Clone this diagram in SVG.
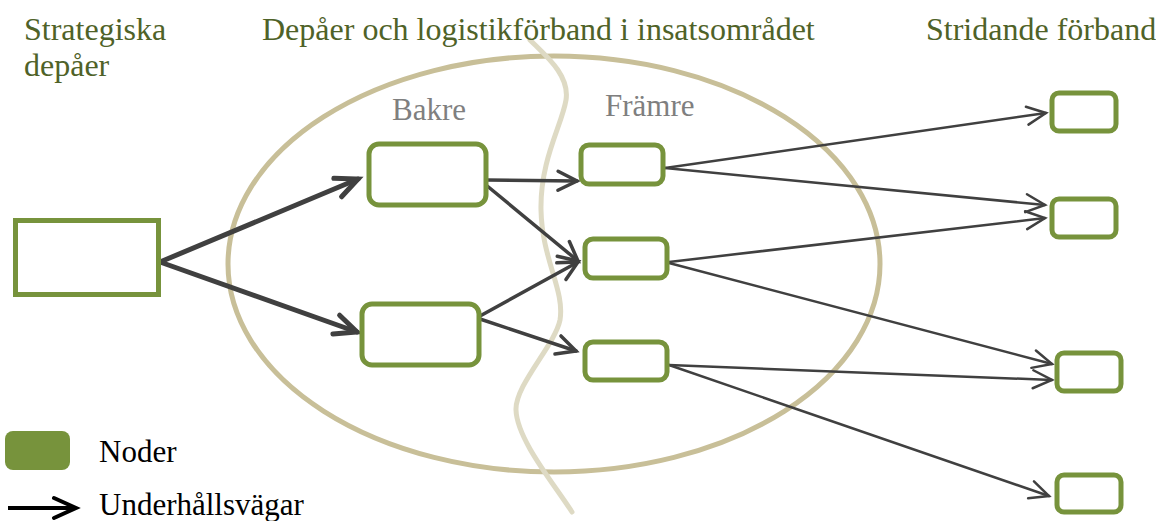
<svg xmlns="http://www.w3.org/2000/svg" width="1156" height="521" viewBox="0 0 1156 521">
<style>
.title{font-family:"Liberation Serif","Times New Roman",serif;font-size:32px;fill:#4f6228}
.sub{font-family:"Liberation Serif","Times New Roman",serif;font-size:31px;fill:#7f7f7f}
.leg{font-family:"Liberation Serif","Times New Roman",serif;font-size:31px;fill:#000}
.node{fill:#fff;stroke:#77933c;stroke-width:5}
.c{fill:none;stroke:#404040;stroke-linecap:round}
.thick{stroke-width:5}
.med{stroke-width:3.5}
.thin{stroke-width:2.5}
</style>
<defs>
<marker id="aThick" markerUnits="userSpaceOnUse" viewBox="-26 -13 30 26" markerWidth="30" markerHeight="26" refX="0" refY="0" orient="auto" overflow="visible">
<path d="M-22,-10 L0,0 L-22,10" fill="none" stroke="#404040" stroke-width="5" stroke-linecap="round" stroke-linejoin="miter"/>
</marker>
<marker id="aMed" markerUnits="userSpaceOnUse" viewBox="-24 -12 28 24" markerWidth="28" markerHeight="24" refX="0" refY="0" orient="auto" overflow="visible">
<path d="M-19,-9.5 L0,0 L-19,9.5" fill="none" stroke="#404040" stroke-width="3.5" stroke-linecap="round"/>
</marker>
<marker id="aThin" markerUnits="userSpaceOnUse" viewBox="-22 -11 26 22" markerWidth="26" markerHeight="22" refX="0" refY="0" orient="auto" overflow="visible">
<path d="M-19,-9 L0,0 L-19,9" fill="none" stroke="#404040" stroke-width="2.5" stroke-linecap="round"/>
</marker>
<marker id="aLeg" markerUnits="userSpaceOnUse" viewBox="-26 -13 30 26" markerWidth="30" markerHeight="26" refX="0" refY="0" orient="auto" overflow="visible">
<path d="M-22,-10 L0,0 L-22,10" fill="none" stroke="#000" stroke-width="4" stroke-linecap="round"/>
</marker>
</defs>

<g id="background">
<ellipse cx="554" cy="264" rx="326" ry="208" fill="none" stroke="#c8bf98" stroke-width="5"/>
<path d="M530,40 C545,55 570,75 566,100 C562,125 540,160 541,210 C542,260 565,290 560,320 C555,345 515,385 516,410 C517,440 555,485 572,512" fill="none" stroke="#deDAc4" stroke-width="5" stroke-linecap="round"/>
</g>

<g id="titles">
<text class="title" x="24" y="40">Strategiska</text>
<text class="title" x="24" y="76">depåer</text>
<text class="title" x="262" y="40">Depåer och logistikförband i insatsområdet</text>
<text class="title" x="926" y="40">Stridande förband</text>
<text class="sub" x="392" y="120">Bakre</text>
<text class="sub" x="605" y="116">Främre</text>
</g>

<g id="connectors">
<line class="c thick" x1="160" y1="262" x2="358" y2="179" marker-end="url(#aThick)"/>
<line class="c thick" x1="160" y1="262" x2="357" y2="332" marker-end="url(#aThick)"/>
<line class="c med" x1="487" y1="180" x2="577" y2="181" marker-end="url(#aMed)"/>
<line class="c med" x1="486" y1="185" x2="578" y2="261" marker-end="url(#aMed)"/>
<line class="c med" x1="480" y1="316" x2="578" y2="262" marker-end="url(#aMed)"/>
<line class="c med" x1="480" y1="319" x2="576" y2="351" marker-end="url(#aMed)"/>
<line class="c thin" x1="665" y1="168" x2="1046" y2="113" marker-end="url(#aThin)"/>
<line class="c thin" x1="665" y1="168" x2="1045" y2="205" marker-end="url(#aThin)"/>
<line class="c thin" x1="669" y1="262" x2="1045" y2="218" marker-end="url(#aThin)"/>
<line class="c thin" x1="669" y1="263" x2="1052" y2="364" marker-end="url(#aThin)"/>
<line class="c thin" x1="669" y1="365" x2="1052" y2="380" marker-end="url(#aThin)"/>
<line class="c thin" x1="669" y1="365" x2="1049" y2="496" marker-end="url(#aThin)"/>
</g>

<g id="n-strategic"><rect class="node" x="15.5" y="220.5" width="143" height="74"/></g>
<g id="n-bakre1"><rect class="node" x="369" y="144" width="117" height="61" rx="10"/></g>
<g id="n-bakre2"><rect class="node" x="362" y="304" width="117" height="61" rx="10"/></g>
<g id="n-framre1"><rect class="node" x="581" y="145" width="82" height="39" rx="8"/></g>
<g id="n-framre2"><rect class="node" x="585" y="239" width="82" height="39" rx="8"/></g>
<g id="n-framre3"><rect class="node" x="585" y="342" width="82" height="38" rx="8"/></g>
<g id="n-strid1"><rect class="node" x="1052" y="93" width="64" height="38" rx="7"/></g>
<g id="n-strid2"><rect class="node" x="1052" y="199" width="64" height="38" rx="7"/></g>
<g id="n-strid3"><rect class="node" x="1057" y="353" width="64" height="38" rx="7"/></g>
<g id="n-strid4"><rect class="node" x="1057" y="475" width="64" height="37" rx="7"/></g>

<g id="legend">
<rect x="5" y="431" width="65" height="39" rx="8" fill="#77933c"/>
<text class="leg" x="99" y="462">Noder</text>
<line x1="8" y1="508" x2="76" y2="508" stroke="#000" stroke-width="4" marker-end="url(#aLeg)"/>
<text class="leg" x="99" y="515">Underhållsvägar</text>
</g>
</svg>
